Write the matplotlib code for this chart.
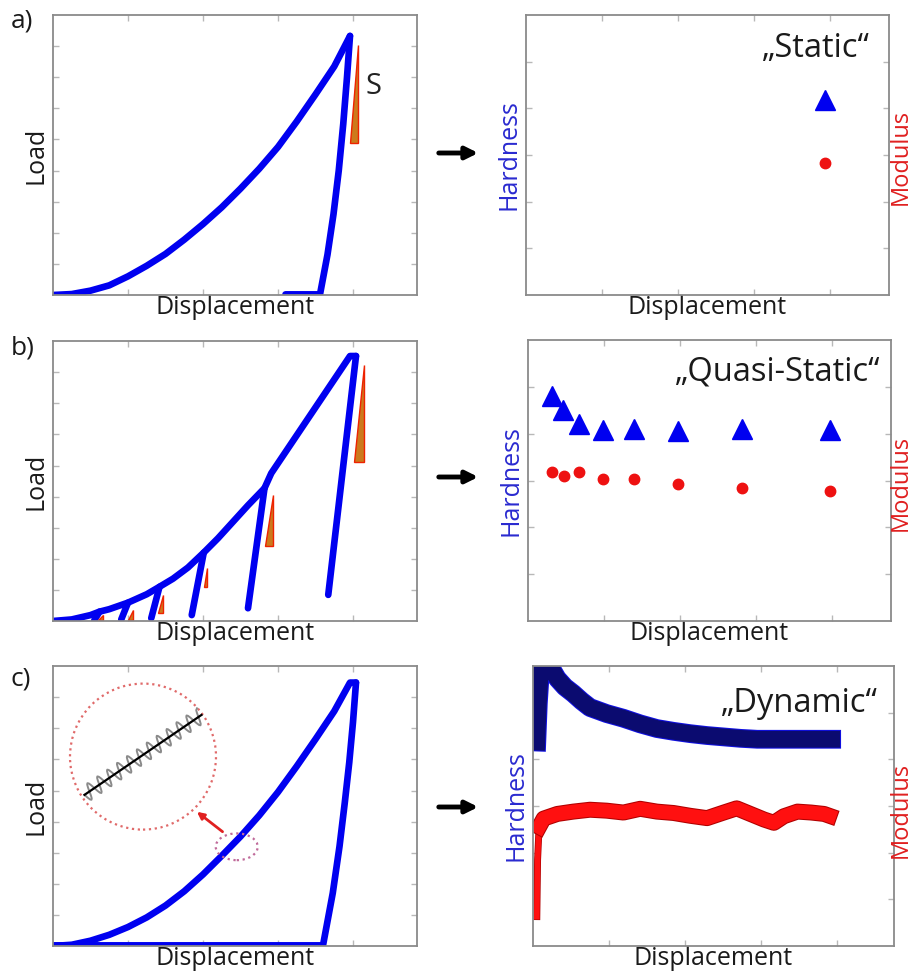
import numpy as np
import matplotlib.pyplot as plt
from matplotlib.patches import Polygon, Ellipse
from matplotlib import patheffects as pe

plt.rcParams['font.family'] = ['Open Sans', 'DejaVu Sans']

# ---- data (arbitrary units) ----
# a) static: single load-unload curve
a_load_x = [0.0, 0.25, 0.50, 0.75, 1.00, 1.25, 1.50, 1.75, 2.00, 2.25, 2.50,
            2.75, 3.00, 3.25, 3.50, 3.75, 3.96]
a_load_y = [0.0, 0.03, 0.14, 0.31, 0.60, 0.94, 1.32, 1.78, 2.28, 2.82, 3.42,
            4.06, 4.76, 5.58, 6.45, 7.35, 8.33]
a_unload_x = [3.96, 3.92, 3.87, 3.81, 3.74, 3.66, 3.56, 3.10]
a_unload_y = [8.33, 7.00, 5.50, 4.00, 2.60, 1.30, 0.02, 0.02]
a_slope = [3.96, 4.07, 4.88, 8.04]        # x_left, x_right, y_bottom, y_top
a_hard_x, a_hard_y = [3.93], [4.18]
a_mod_x, a_mod_y = [3.93], [2.83]

# b) quasi-static: partial unloading cycles
b_load_x = [0.0, 0.25, 0.50, 0.62, 0.75, 1.00, 1.25, 1.42, 1.60, 1.80, 2.01,
            2.20, 2.40, 2.60, 2.82, 2.91, 3.96, 4.04]
b_load_y = [0.0, 0.05, 0.19, 0.30, 0.38, 0.59, 0.86, 1.10, 1.36, 1.72, 2.20,
            2.66, 3.19, 3.72, 4.27, 4.75, 8.52, 8.52]
b_peak_x = [0.62, 1.00, 1.42, 2.01, 2.82, 4.04]
b_peak_y = [0.30, 0.59, 1.10, 2.20, 4.27, 8.52]
b_end_x = [0.55, 0.91, 1.31, 1.85, 2.60, 3.67]
b_end_y = [0.02, 0.05, 0.09, 0.19, 0.41, 0.84]
b_slopes = [[0.60, 0.66, 0.02, 0.20],
            [1.00, 1.07, 0.02, 0.35],
            [1.40, 1.47, 0.25, 0.84],
            [2.01, 2.05, 1.10, 1.69],
            [2.83, 2.93, 2.41, 4.05],
            [4.01, 4.15, 5.12, 8.23]]
b_hard_x = [0.32, 0.46, 0.675, 0.99, 1.39, 1.98, 2.81, 3.98]
b_hard_y = [4.80, 4.50, 4.21, 4.07, 4.09, 4.05, 4.10, 4.07]
b_mod_x = [0.32, 0.47, 0.675, 0.99, 1.39, 1.98, 2.82, 3.98]
b_mod_y = [3.18, 3.10, 3.18, 3.04, 3.04, 2.93, 2.85, 2.78]

# c) dynamic: continuous curve + continuous properties
c_load_x = [0.0, 0.25, 0.50, 0.75, 1.00, 1.25, 1.50, 1.75, 2.00, 2.25, 2.50,
            2.75, 3.00, 3.25, 3.50, 3.75, 3.96, 4.04]
c_load_y = [0.0, 0.04, 0.17, 0.36, 0.61, 0.92, 1.30, 1.76, 2.30, 2.90, 3.52,
            4.20, 4.95, 5.78, 6.65, 7.55, 8.47, 8.47]
c_unload_x = [4.04, 4.00, 3.95, 3.89, 3.82, 3.73, 3.60, 0.0]
c_unload_y = [8.47, 7.20, 5.90, 4.60, 3.20, 1.70, 0.02, 0.02]
c_line_x = [0.42, 1.98]                 # black line inside the magnifier
c_line_y = [4.86, 7.43]
c_hard_x = [0.05, 0.07, 0.09, 0.12, 0.18, 0.23, 0.32, 0.42, 0.53, 0.64, 0.75,
            0.97, 1.19, 1.41, 1.63, 1.85, 2.07, 2.29, 2.51, 2.73, 2.95, 3.39,
            3.82, 3.93]
c_hard_y = [4.37, 5.20, 5.70, 6.34, 6.10, 5.98, 5.73, 5.55, 5.41, 5.25, 5.11,
            4.98, 4.88, 4.76, 4.66, 4.60, 4.55, 4.51, 4.48, 4.45, 4.43, 4.43,
            4.43, 4.43]
c_mod_x = [0.05, 0.06, 0.08, 0.14, 0.32, 0.53, 0.75, 0.97, 1.19, 1.41, 1.63,
           1.85, 2.07, 2.29, 2.51, 2.68, 2.86, 3.04, 3.17, 3.30, 3.48, 3.66,
           3.83, 3.90]
c_mod_y = [0.63, 1.84, 2.55, 2.73, 2.83, 2.88, 2.92, 2.90, 2.86, 2.94, 2.88,
           2.85, 2.79, 2.74, 2.86, 2.95, 2.83, 2.71, 2.64, 2.78, 2.88, 2.86,
           2.83, 2.79]

W, H = 916, 976
fig = plt.figure(figsize=(W / 100, H / 100), dpi=100)

BLUE = '#0000f0'
LABEL_FS = 18
TITLE_FS = 23.5


def px_axes(x0, y0, x1, y1):
    # axes placed by its pixel box in the figure
    return fig.add_axes([x0 / W, 1 - y1 / H, (x1 - x0) / W, (y1 - y0) / H])


def frame(ax, xmax, ymax, xt, yt):
    ax.set_xlim(0, xmax)
    ax.set_ylim(0, ymax)
    ax.set_xticks(xt)
    ax.set_yticks(yt)
    ax.tick_params(direction='in', length=4, width=1, color='#b8b8b8',
                   labelleft=False, labelbottom=False, top=True, right=True)
    for s in ax.spines.values():
        s.set_color('#8a8a8a')
        s.set_linewidth(1.3)
    ax.set_xlabel('Displacement', fontsize=LABEL_FS, labelpad=0, color='#1a1a1a')


def slope_tri(ax, xl, xr, yb, yt):
    ax.add_patch(Polygon([[xl, yb], [xr, yb], [xr, yt]], closed=True,
                         facecolor='#cc7a1c', edgecolor='#ee2200', lw=1, zorder=2))


def left_panel(ax):
    frame(ax, 364 / 75, 280 / 31.1, [1, 2, 3, 4], range(1, 9))
    ax.set_ylabel('Load', fontsize=LABEL_FS, labelpad=3, color='#1a1a1a')


def right_panel(ax, title, tx, ty, mod_y):
    frame(ax, ax.bbox.width / 76, 6, [1, 2, 3, 4], [1, 2, 3, 4, 5])
    ax.set_ylabel('Hardness', fontsize=LABEL_FS, color='#2a2ad0', labelpad=3)
    fig.text(901 / W, 1 - mod_y / H, 'Modulus', rotation=90,
             ha='center', va='center', fontsize=17, color='#e02020')
    ax.text(tx, ty, title, transform=ax.transAxes, ha='right', va='top',
            fontsize=TITLE_FS, color='#1a1a1a')


def arrow(y):
    fig.add_artist(plt.Annotation('', xy=(481 / W, 1 - y / H), xytext=(436 / W, 1 - y / H),
                                  xycoords='figure fraction', textcoords='figure fraction',
                                  arrowprops=dict(arrowstyle='-|>', color='black', lw=3.5,
                                                  mutation_scale=18)))


# ---------- a) ----------
ax = px_axes(53, 15, 417, 295)
left_panel(ax)
ax.plot(a_load_x, a_load_y, color=BLUE, lw=4.8, solid_capstyle='round', solid_joinstyle='round')
ax.plot(a_unload_x, a_unload_y, color=BLUE, lw=4.8, solid_capstyle='round', solid_joinstyle='round')
slope_tri(ax, *a_slope)
ax.text(4.27, 6.69, 'S', fontsize=21, ha='center', va='center', color='#222222')

ax = px_axes(526, 15, 889, 295)
right_panel(ax, '„Static“', 0.948, 0.94, 157)
ax.plot(a_hard_x, a_hard_y, '^', color=BLUE, ms=14)
ax.plot(a_mod_x, a_mod_y, 'o', color='#ee1111', ms=7.5)
arrow(153)

# ---------- b) ----------
ax = px_axes(53, 341, 417, 621)
left_panel(ax)
ax.plot(b_load_x, b_load_y, color=BLUE, lw=4.8, solid_capstyle='round', solid_joinstyle='round')
for px_, py_, ex, ey in zip(b_peak_x, b_peak_y, b_end_x, b_end_y):
    ax.plot([px_, ex], [py_, ey], color=BLUE, lw=4.8, solid_capstyle='round')
for tri in b_slopes:
    slope_tri(ax, *tri)

ax = px_axes(528, 340, 891, 621)
right_panel(ax, '„Quasi-Static“', 0.97, 0.945, 483)
ax.plot(b_hard_x, b_hard_y, '^', color=BLUE, ms=14, ls='none')
ax.plot(b_mod_x, b_mod_y, 'o', color='#ee1111', ms=7.5, ls='none')
arrow(477)

# ---------- c) ----------
ax = px_axes(53, 666, 417, 946)
left_panel(ax)
ax.plot(c_load_x, c_load_y, color=BLUE, lw=4.8, solid_capstyle='round', solid_joinstyle='round')
ax.plot(c_unload_x, c_unload_y, color=BLUE, lw=4.8, solid_capstyle='round', solid_joinstyle='round')
# magnifier
ax.add_patch(Ellipse((1.20, 6.09), 2 * 73 / 75, 2 * 73 / 31.1, fill=False,
                     edgecolor='#e06a6a', ls=':', lw=1.6))
ax.add_patch(Ellipse((2.45, 3.19), 0.56, 0.86, fill=False,
                     edgecolor='#c06a9a', ls=':', lw=1.6, zorder=3))
wig, = ax.plot(c_line_x, c_line_y, color='#8a8a8a', lw=1.4)
wig.set_sketch_params(scale=8, length=12, randomness=1)
ax.plot(c_line_x, c_line_y, color='black', lw=1.6)
ax.annotate('', xy=(1.89, 4.37), xytext=(2.29, 3.62),
            arrowprops=dict(arrowstyle='-|>', color='#e02020', lw=2, mutation_scale=10))

ax = px_axes(533, 666, 894, 946)
right_panel(ax, '„Dynamic“', 0.956, 0.925, 810)
ax.plot(c_hard_x, c_hard_y, color='#0b0b70', lw=12, solid_joinstyle='round',
        path_effects=[pe.Stroke(linewidth=13.5, foreground='#1010e0'), pe.Normal()])
# thin vertical rise first, then the thick noisy plateau
ax.plot(c_mod_x[:4], c_mod_y[:4], color='#ff1010', lw=4,
        path_effects=[pe.Stroke(linewidth=5, foreground='#b00000'), pe.Normal()])
ax.plot(c_mod_x[2:], c_mod_y[2:], color='#ff1010', lw=10, solid_joinstyle='round',
        path_effects=[pe.Stroke(linewidth=11.5, foreground='#b00000'), pe.Normal()])
arrow(807)

# panel letters
for lab, y in [('a)', 9), ('b)', 336), ('c)', 666)]:
    fig.text(11 / W, 1 - y / H, lab, fontsize=19, va='top', ha='left', color='#1a1a1a')

fig.savefig('out.png', dpi=100, facecolor='white')
